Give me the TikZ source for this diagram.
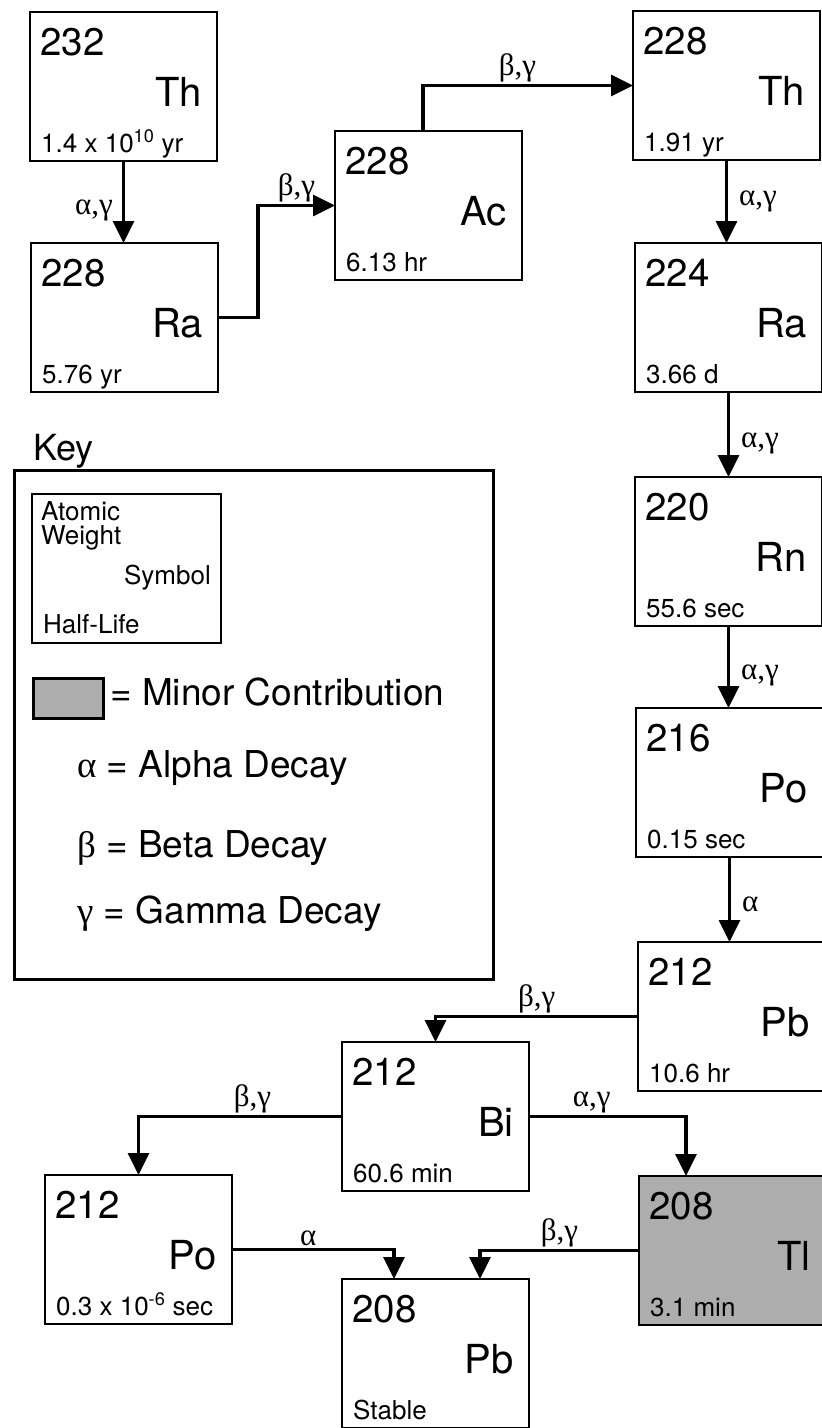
\documentclass[tikz,border=0pt]{standalone}
\usepackage{fontspec}
\setmainfont{TeX Gyre Heros}
\newfontfamily\greek{Liberation Serif}
\usetikzlibrary{arrows.meta,calc}
\tikzset{
  iso/.style={draw, line width=2.6pt, minimum width=187pt, minimum height=149pt, anchor=north west, inner sep=0pt, outer sep=0pt},
  minor/.style={fill=black!32},
  massn/.style={anchor=base west, inner sep=0pt, font=\fontsize{38.5}{38}\selectfont},
  symb/.style={anchor=base east, inner sep=0pt, font=\fontsize{40}{40}\selectfont},
  halfl/.style={anchor=base west, inner sep=0pt, font=\fontsize{26}{26}\selectfont},
  conn/.style={line width=3.2pt, -{Triangle[length=22pt,width=21pt]}},
  lbl/.style={inner sep=1pt, font=\fontsize{31}{31}\greek},
  keytxt/.style={anchor=base west, inner sep=0pt, font=\fontsize{37}{37}\selectfont},
  smalltxt/.style={inner sep=0pt, font=\fontsize{26}{26}\selectfont},
}
\newcommand\isobox[7]{%
  \node[iso,#7] (#1) at (#2,#3) {};
  \node[massn] (#1-m) at ($(#1.north west)+(10,43)$) {#4};
  \node[symb] (#1-s) at ($(#1.north east)+(-15,94)$) {#5};
  \node[halfl] (#1-h) at ($(#1.north west)+(11,140)$) {#6};
}
\begin{document}
\begin{tikzpicture}[x=1pt,y=-1pt]
\useasboundingbox (0,0) rectangle (822,1428);
% isotopes
\isobox{th232}{30}{12}{232}{Th}{1.4 x 10\textsuperscript{10} yr}{}
\isobox{ra228}{31}{243}{228}{Ra}{5.76 yr}{}
\isobox{ac228}{335}{131}{228}{Ac}{6.13 hr}{}
\isobox{th228}{633}{11}{228}{Th}{1.91 yr}{}
\isobox{ra224}{635}{243}{224}{Ra}{3.66 d}{}
\isobox{rn220}{635}{477}{220}{Rn}{55.6 sec}{}
\isobox{po216}{636}{708}{216}{Po}{0.15 sec}{}
\isobox{pb212}{638}{942}{212}{Pb}{10.6 hr}{}
\isobox{bi212}{342}{1042}{212}{Bi}{60.6 min}{}
\isobox{po212}{45}{1175}{212}{Po}{0.3 x 10\textsuperscript{-6} sec}{}
\isobox{tl208}{639}{1176}{208}{Tl}{3.1 min}{minor}
\isobox{pb208}{342}{1279}{208}{Pb}{Stable}{}
% key
\node[anchor=base west, inner sep=0pt, font=\fontsize{36}{36}\selectfont] (keylbl) at (33,460) {Key};
\node[draw, line width=2.6pt, anchor=north west, minimum width=479pt, minimum height=509pt, inner sep=0pt] (keybox) at (13,469) {};
\node[draw, line width=2.2pt, anchor=north west, minimum width=189pt, minimum height=149pt, inner sep=0pt] (sample) at (31,493) {};
\node[smalltxt, anchor=north west, align=left, font=\fontsize{26}{24}\selectfont] (samp-m) at (41,501) {Atomic\\Weight};
\node[smalltxt, anchor=base east] (samp-s) at (211,584) {Symbol};
\node[smalltxt, anchor=base west] (samp-h) at (43,633) {Half-Life};
\node[draw, line width=2.6pt, minor, anchor=north west, minimum width=70pt, minimum height=40pt, inner sep=0pt] (minorbox) at (32,677) {};
\node[keytxt] (k1) at (110,705) {= Minor Contribution};
\node[keytxt] (k2) at (77,777) {{\greek α} = Alpha Decay};
\node[keytxt] (k3) at (77,857) {{\greek β} = Beta Decay};
\node[keytxt] (k4) at (77,923) {{\greek γ} = Gamma Decay};
% bend coordinates
\coordinate (b1) at (258,0);
\coordinate (b2) at (423,82);
\coordinate (b3) at (686,0);
\coordinate (b4) at (394,0);
\coordinate (b5) at (480,0);
% connectors
\draw[conn] (th232.south) -- (th232.south |- ra228.north) node[lbl, left=8pt, pos=0.6] {α,γ};
\draw[conn] (ra228.east) -| (b1 |- ac228.west) -- node[lbl, above=1pt] {β,γ} (ac228.west);
\draw[conn] (b2 |- ac228.north) -- (b2 |- th228.west) -- node[lbl, above=1pt, pos=0.45] {β,γ} (th228.west);
\draw[conn] (th228.south) -- (th228.south |- ra224.north) node[lbl, right=10pt, pos=0.5] {α,γ};
\draw[conn] (ra224.south) -- (ra224.south |- rn220.north) node[lbl, right=10pt, pos=0.6] {α,γ};
\draw[conn] (rn220.south) -- (rn220.south |- po216.north) node[lbl, right=10pt, pos=0.6] {α,γ};
\draw[conn] (po216.south) -- (po216.south |- pb212.north) node[lbl, right=10pt, pos=0.56] {α};
\draw[conn] (pb212.west) -| (bi212.north) node[lbl, above=1pt, pos=0.25] {β,γ};
\draw[conn] (bi212.west) -| (po212.north) node[lbl, above=1pt, pos=0.22] {β,γ};
\draw[conn] (bi212.east) -| (b3 |- tl208.north) node[lbl, above=1pt, pos=0.2] {α,γ};
\draw[conn] (po212.east) -| (b4 |- pb208.north) node[lbl, above=1pt, pos=0.235] {α};
\draw[conn] (tl208.west) -| (b5 |- pb208.north) node[lbl, above=1pt, pos=0.25] {β,γ};
\end{tikzpicture}
\end{document}
